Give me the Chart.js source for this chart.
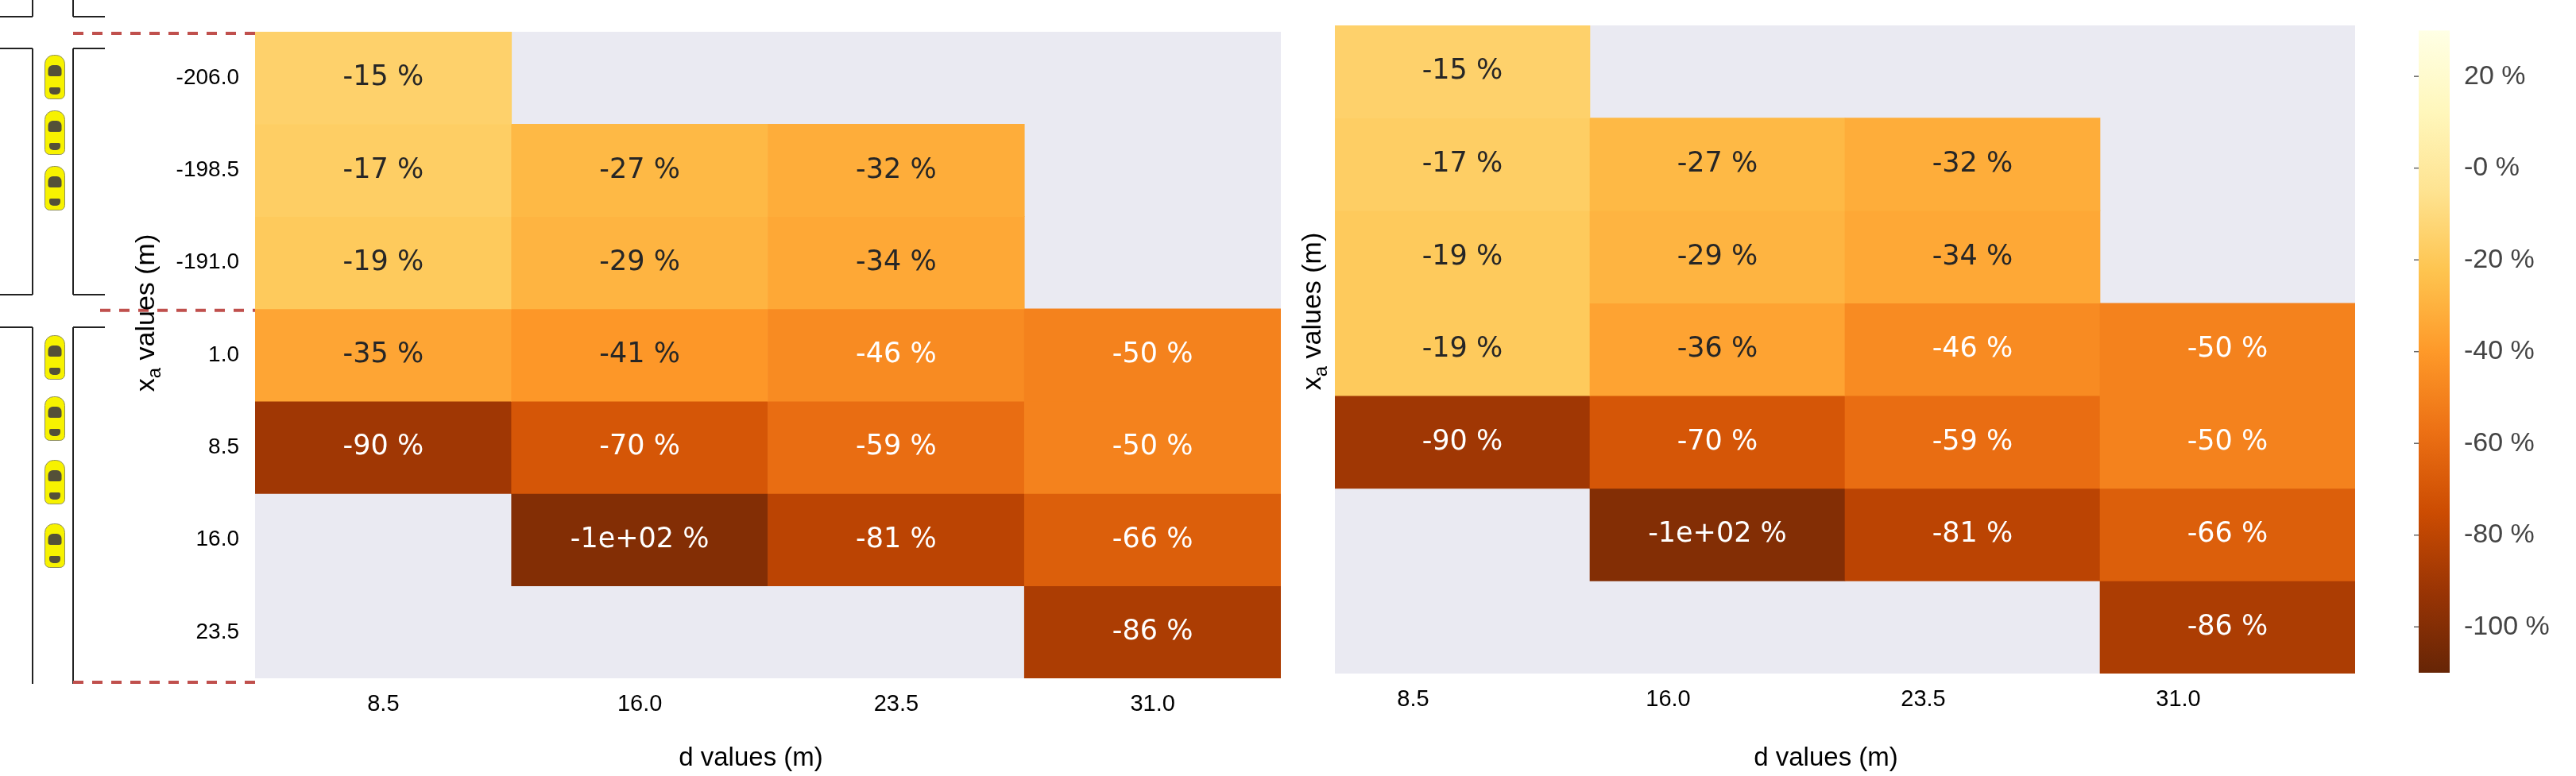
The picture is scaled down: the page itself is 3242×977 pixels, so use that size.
<!DOCTYPE html>
<html lang="en">
<head>
<meta charset="UTF-8">
<title>Heatmaps</title>
<script src="https://cdn.jsdelivr.net/npm/chart.js"></script>
<style>
  body { margin: 0; background: #fff; width: 3242px; height: 977px; position: relative; overflow: hidden; }
  .box { position: absolute; top: 0; height: 977px; }
  #leftBox { left: 0; width: 1640px; }
  #rightBox { left: 1600px; width: 1380px; }
  #barBox { left: 3000px; width: 242px; }
</style>
</head>
<body>
<div class="box" id="leftBox"><canvas id="left"></canvas></div>
<div class="box" id="rightBox"><canvas id="right"></canvas></div>
<div class="box" id="barBox"><canvas id="bar"></canvas></div>
<script>
// axes
const dLabels = ['8.5', '16.0', '23.5', '31.0'];
const xaLabels = ['-206.0', '-198.5', '-191.0', '1.0', '8.5', '16.0', '23.5'];

// left heatmap, one array per x_a row (percent)
const left206 = [-15, null, null, null];
const left198 = [-17, -27, -32, null];
const left191 = [-19, -29, -34, null];
const left1 = [-35, -41, -46, -50];
const left8 = [-90, -70, -59, -50];
const left16 = [null, -100, -81, -66];
const left23 = [null, null, null, -86];

// right heatmap
const right206 = [-15, null, null, null];
const right198 = [-17, -27, -32, null];
const right191 = [-19, -29, -34, null];
const right1 = [-19, -36, -46, -50];
const right8 = [-90, -70, -59, -50];
const right16 = [null, -100, -81, -66];
const right23 = [null, null, null, -86];

// colour bar
const vmin = -110, vmax = 30;
const cbTicks = [20, 0, -20, -40, -60, -80, -100];
const cbLabels = ['20 %', '-0 %', '-20 %', '-40 %', '-60 %', '-80 %', '-100 %'];

const leftRows = [left206, left198, left191, left1, left8, left16, left23];
const rightRows = [right206, right198, right191, right1, right8, right16, right23];

// YlOrBr
const stops = ['#ffffe5', '#fff7bc', '#fee391', '#fec44f', '#fe9929', '#ec7014', '#cc4c02', '#993404', '#662506'];
function hex(c) { return [1, 3, 5].map(i => parseInt(c.substr(i, 2), 16)); }
function cmapRGB(t) {
    t = Math.max(0, Math.min(1, t));
    const p = t * (stops.length - 1);
    const i = Math.min(Math.floor(p), stops.length - 2);
    const f = p - i;
    const a = hex(stops[i]), b = hex(stops[i + 1]);
    return a.map((v, k) => Math.round(v + (b[k] - v) * f));
}
function colorFor(v) {
    if (v === null) return 'rgba(0,0,0,0)';
    const c = cmapRGB(1 - (v - vmin) / (vmax - vmin));
    return `rgb(${c[0]},${c[1]},${c[2]})`;
}
function textColorFor(v) {
    const c = cmapRGB(1 - (v - vmin) / (vmax - vmin)).map(x => {
        x = x / 255;
        return x <= 0.03928 ? x / 12.92 : Math.pow((x + 0.055) / 1.055, 2.4);
    });
    const lum = 0.2126 * c[0] + 0.7152 * c[1] + 0.0722 * c[2];
    return lum > 0.408 ? '#262626' : '#ffffff';
}
function fmt2g(v) {
    if (Math.abs(v) >= 100) {
        let s = v.toExponential(0);
        return s.replace(/e([+-])(\d)$/, 'e$10$2');
    }
    return String(Number(v.toPrecision(2)));
}

Chart.defaults.font.family = "'Liberation Sans', Arial, sans-serif";
Chart.defaults.color = '#000';

const bgPlugin = {
    id: 'bg',
    beforeDatasetsDraw(chart) {
        const a = chart.chartArea;
        chart.ctx.save();
        chart.ctx.fillStyle = '#eaeaf2';
        chart.ctx.fillRect(a.left, a.top, a.right - a.left, a.bottom - a.top);
        chart.ctx.restore();
    }
};

const annotPlugin = {
    id: 'annot',
    afterDatasetsDraw(chart) {
        const ctx = chart.ctx;
        ctx.save();
        ctx.font = "35px 'DejaVu Sans'";
        ctx.textAlign = 'center';
        ctx.textBaseline = 'middle';
        chart.data.datasets.forEach((ds, di) => {
            chart.getDatasetMeta(di).data.forEach((el, i) => {
                const v = ds.vals[i];
                if (v === null) return;
                ctx.fillStyle = textColorFor(v);
                ctx.fillText(fmt2g(v) + ' %', el.x, (el.y + el.base) / 2);
            });
        });
        ctx.restore();
    }
};

function drawYTitle(ctx, cx, cy) {
    ctx.save();
    ctx.translate(cx, cy);
    ctx.rotate(-Math.PI / 2);
    ctx.fillStyle = '#000';
    ctx.textBaseline = 'alphabetic';
    ctx.textAlign = 'left';
    const big = "34px 'Liberation Sans'", small = "24px 'Liberation Sans'";
    ctx.font = big;
    const wx = ctx.measureText('x').width;
    const rest = ' values (m)';
    const wr = ctx.measureText(rest).width;
    ctx.font = small;
    const wa = ctx.measureText('a').width;
    let x = -(wx + wa + wr) / 2;
    const base = 12;
    ctx.font = big;
    ctx.fillText('x', x, base);
    x += wx;
    ctx.font = small;
    ctx.fillText('a', x, base + 8);
    x += wa;
    ctx.font = big;
    ctx.fillText(rest, x, base);
    ctx.restore();
}

function drawXTitle(ctx, cx, cy) {
    ctx.save();
    ctx.font = "33px 'Liberation Sans'";
    ctx.fillStyle = '#000';
    ctx.textAlign = 'center';
    ctx.textBaseline = 'middle';
    ctx.fillText('d values (m)', cx, cy);
    ctx.restore();
}

function drawCar(ctx, cx, cy) {
    const w = 25, h = 55;
    ctx.save();
    ctx.fillStyle = '#f7f200';
    ctx.strokeStyle = '#8f8f60';
    ctx.lineWidth = 1;
    ctx.beginPath();
    ctx.roundRect(cx - w / 2, cy - h / 2, w, h, [11, 11, 6, 6]);
    ctx.fill();
    ctx.stroke();
    ctx.fillStyle = '#545038';
    ctx.beginPath();
    ctx.roundRect(cx - 8.5, cy - 15, 17, 14, [6, 6, 3, 3]);
    ctx.fill();
    ctx.beginPath();
    ctx.roundRect(cx - 7, cy + 13, 14, 9, [2, 2, 5, 5]);
    ctx.fill();
    ctx.restore();
}

const roadPlugin = {
    id: 'road',
    afterDraw(chart) {
        const ctx = chart.ctx;
        const y = chart.scales.y;
        const a = chart.chartArea;
        ctx.save();
        ctx.strokeStyle = '#222';
        ctx.lineWidth = 2;
        const seg = (x1, y1, x2, y2) => { ctx.beginPath(); ctx.moveTo(x1, y1); ctx.lineTo(x2, y2); ctx.stroke(); };
        // top stub
        seg(41, 0, 41, 21); seg(0, 21, 41, 21);
        seg(92, 0, 92, 21); seg(92, 21, 132, 21);
        // upper block
        seg(41, 61, 41, 371); seg(0, 61, 41, 61); seg(0, 371, 41, 371);
        seg(92, 61, 92, 371); seg(92, 61, 132, 61); seg(92, 371, 132, 371);
        // lower block
        seg(0, 412, 41, 412); seg(41, 412, 41, 861);
        seg(92, 412, 132, 412); seg(92, 412, 92, 861);
        // dashed separators on the row boundaries
        ctx.strokeStyle = '#c0504d';
        ctx.lineWidth = 4;
        ctx.setLineDash([13, 11]);
        seg(92, y.getPixelForValue(0) + 2, a.left, y.getPixelForValue(0) + 2);
        seg(126, y.getPixelForValue(3) + 2, a.left, y.getPixelForValue(3) + 2);
        seg(92, y.getPixelForValue(7) + 5, a.left, y.getPixelForValue(7) + 5);
        ctx.restore();
        [97, 167, 237, 450, 527, 607, 687].forEach(cy => drawCar(ctx, 69, cy));
        drawYTitle(ctx, 182, 394);
        drawXTitle(ctx, 945, 955);
    }
};

function heatmap(id, rows, opts) {
    const datasets = rows.map((vals, r) => ({
        vals: vals,
        data: vals.map(v => v === null ? null : [r, r + 1]),
        backgroundColor: vals.map(colorFor),
        borderWidth: 0,
        grouped: false,
        barPercentage: 1,
        categoryPercentage: 1
    }));
    return new Chart(document.getElementById(id), {
        type: 'bar',
        data: { labels: dLabels, datasets: datasets },
        options: {
            responsive: true,
            maintainAspectRatio: false,
            devicePixelRatio: 1,
            animation: false,
            layout: { padding: { left: 0, top: opts.top, right: opts.right, bottom: 0 } },
            plugins: { legend: { display: false }, tooltip: { enabled: false } },
            scales: {
                x: {
                    type: 'category',
                    grid: { display: false, drawTicks: false },
                    border: { display: false },
                    ticks: { font: { size: 29 }, color: '#000', padding: 16, labelOffset: opts.labelOffset, maxRotation: 0 },
                    afterFit: s => { s.height = 977 - opts.bottom; }
                },
                y: {
                    type: 'linear',
                    min: 0,
                    max: 7,
                    reverse: true,
                    grid: { display: false, drawTicks: false },
                    border: { display: false },
                    afterBuildTicks: s => { s.ticks = xaLabels.map((_, i) => ({ value: i + 0.5 })); },
                    ticks: {
                        display: opts.yTicks,
                        autoSkip: false,
                        font: { size: 28 },
                        color: '#000',
                        padding: 20,
                        callback: (v, i) => xaLabels[i]
                    },
                    afterFit: s => { s.width = opts.left; }
                }
            }
        },
        plugins: opts.plugins
    });
}

heatmap('left', leftRows, {
    top: 40, right: 28, bottom: 854, left: 321, labelOffset: 0, yTicks: true,
    plugins: [bgPlugin, annotPlugin, roadPlugin]
});

heatmap('right', rightRows, {
    top: 32, right: 16, bottom: 848, left: 80, labelOffset: -62, yTicks: false,
    plugins: [bgPlugin, annotPlugin, {
        id: 'rtitles',
        afterDraw(chart) {
            drawYTitle(chart.ctx, 50, 392);
            drawXTitle(chart.ctx, 698, 955);
        }
    }]
});

// colour bar
new Chart(document.getElementById('bar'), {
    type: 'bar',
    data: { labels: [''], datasets: [] },
    options: {
        responsive: true,
        maintainAspectRatio: false,
        devicePixelRatio: 1,
        animation: false,
        layout: { padding: { left: 44, top: 36, right: 0, bottom: 130 } },
        plugins: { legend: { display: false }, tooltip: { enabled: false } },
        scales: {
            x: { display: false },
            y: {
                type: 'linear',
                position: 'right',
                min: vmin,
                max: vmax,
                grid: { display: false, drawTicks: false },
                border: { display: false },
                afterBuildTicks: s => { s.ticks = cbTicks.map(v => ({ value: v })); },
                ticks: {
                    autoSkip: false,
                    font: { size: 34 },
                    color: '#444',
                    padding: 18,
                    callback: (v, i) => cbLabels[i]
                },
                afterFit: s => { s.width = 159; }
            }
        }
    },
    plugins: [{
        id: 'cbar',
        beforeDraw(chart) {
            const ctx = chart.ctx;
            const a = chart.chartArea;
            const y = chart.scales.y;
            const top = y.getPixelForValue(vmax), bot = y.getPixelForValue(vmin);
            const g = ctx.createLinearGradient(0, top, 0, bot);
            stops.forEach((c, i) => g.addColorStop(i / (stops.length - 1), c));
            ctx.save();
            ctx.fillStyle = g;
            ctx.fillRect(a.left, top, a.right - a.left, bot - top);
            ctx.strokeStyle = '#666';
            ctx.lineWidth = 1.5;
            cbTicks.forEach(v => {
                const py = y.getPixelForValue(v);
                ctx.beginPath();
                ctx.moveTo(a.left - 6, py);
                ctx.lineTo(a.left, py);
                ctx.stroke();
            });
            ctx.restore();
        }
    }]
});
</script>
</body>
</html>
